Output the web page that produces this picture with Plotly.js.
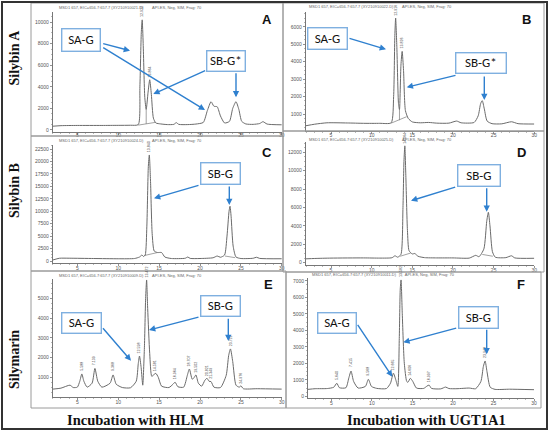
<!DOCTYPE html>
<html><head><meta charset="utf-8">
<script src="https://cdn.plot.ly/plotly-3.0.1.min.js"></script>
<style>html,body{margin:0;padding:0;background:#fff}#chart{width:550px;height:432px}</style>
</head><body><div id="chart"></div>
<script>
// ---------- DATA ----------
// Panel A: Silybin A, HLM
const tA = [2.0,3.0,5.0,8.0,10.0,11.5,12.45,12.65,12.82,12.93,13.05,13.25,13.42,13.65,13.85,14.05,14.3,14.6,15.2,16.0,16.8,17.1,17.4,18.5,19.5,20.4,20.9,21.35,21.7,22.1,22.5,23.0,23.6,24.0,24.4,24.75,25.1,25.6,26.5,27.3,27.7,28.2,30.0];
const yA = [350,400,420,420,430,440,500,4000,9000,10200,8000,3000,1900,3500,4650,3300,1100,650,560,500,520,680,520,500,550,700,1800,2620,2200,2150,1300,650,800,2000,2620,1900,800,560,520,600,770,550,480];
// Panel B: Silybin A, UGT1A1
const tB = [1.9,3.0,4.5,7.0,9.0,11.0,12.4,12.7,12.85,12.95,13.1,13.3,13.42,13.6,13.75,13.92,14.15,14.5,15.0,16.0,17.0,18.0,19.5,20.45,21.0,22.6,23.1,23.4,23.6,23.85,24.2,24.8,26.0,27.2,28.0,30.0];
const yB = [330,420,500,490,470,470,500,2000,5500,6500,4800,1600,1250,3800,4590,3500,1200,750,550,500,520,480,480,600,500,520,900,1600,1770,1300,600,450,440,560,450,430];
// Panel C: Silybin B, HLM
const tC = [2.0,2.8,4.0,7.0,10.0,12.0,12.6,12.9,13.1,13.3,13.5,13.68,13.8,13.95,14.15,14.4,14.8,15.3,15.7,16.5,18.2,18.5,18.8,20.0,21.6,22.1,22.5,23.0,23.3,23.55,23.67,23.8,24.05,24.4,25.0,26.5,26.9,27.3,30.0];
const yC = [200,550,560,500,450,500,800,1200,900,1200,7000,19000,21300,16000,5500,2000,1700,1700,800,500,550,800,520,500,650,1000,750,1200,5000,10000,11000,9000,3000,800,500,550,750,520,450];
// Panel D: Silybin B, UGT1A1
const tD = [1.9,3.0,5.0,9.0,11.0,12.5,12.87,13.2,13.6,13.85,13.97,14.08,14.2,14.4,14.6,15.0,15.3,15.7,16.5,18.0,20.0,22.0,22.8,23.2,23.8,24.15,24.35,24.55,24.85,25.2,26.5,27.2,27.6,30.0];
const yD = [420,460,500,520,500,540,750,600,900,6000,11000,12700,9500,3500,1300,950,1000,700,550,520,520,500,800,650,1500,4500,5480,4000,1200,600,550,750,520,480];
// Panel E: Silymarin, HLM
const tE = [2.0,3.0,4.1,4.5,5.0,5.3,5.55,5.8,6.2,6.8,7.15,7.5,8.0,9.0,9.37,9.75,10.5,11.5,12.2,12.45,12.6,12.8,13.0,13.2,13.35,13.47,13.6,13.85,14.1,14.4,14.6,14.9,15.3,16.2,16.7,16.95,17.3,18.0,18.45,18.7,19.05,19.3,19.5,19.8,20.2,20.6,20.85,21.1,21.35,21.7,22.5,23.2,23.5,23.72,24.0,24.4,24.8,25.0,25.3,27.0,30.0];
const yE = [400,450,600,480,500,800,1170,800,500,700,1450,800,500,700,1120,650,480,470,800,1700,2080,1500,600,2500,5000,5940,4500,2200,1050,1150,1200,1000,550,480,650,750,520,500,1100,1420,900,1000,1120,700,550,850,950,800,780,500,480,1100,2100,2440,1800,600,500,570,420,420,400];
// Panel F: Silymarin, UGT1A1
const tF = [2.12,3.0,4.5,5.3,5.67,6.0,6.8,7.15,7.43,7.75,8.3,9.2,9.57,9.95,10.6,11.8,12.3,12.65,12.95,13.2,13.38,13.5,13.6,13.75,14.0,14.3,14.45,14.75,15.05,15.5,16.4,16.8,17.06,17.35,18.5,19.1,19.5,20.5,22.0,22.8,23.45,23.75,23.97,24.2,24.6,25.2,27.0,30.0];
const yF = [420,460,470,550,790,520,520,1100,1530,900,500,600,1030,600,480,470,800,1400,1000,600,3500,6500,7050,5000,2000,900,850,1090,900,500,480,620,680,480,450,560,470,460,500,460,900,1800,2140,1500,550,420,430,400];

// integration baselines / drop lines
const baseA_t = [12.45,14.5], baseA_v = [450,700], dropA_t = [13.42,13.42], dropA_v = [1900,560];
const baseB_t = [12.4,14.3],  baseB_v = [480,850], dropB_t = [13.42,13.42], dropB_v = [1250,650];
const baseC_t = [13.2,14.8],  baseC_v = [1100,1700], baseC2_t = [23.05,24.3], baseC2_v = [1000,670];
const baseD_t = [13.5,14.8],  baseD_v = [700,1050],  baseD2_t = [23.6,24.9],  baseD2_v = [900,700];

// peak retention-time labels
const pkA_t = [12.93,13.85], pkA_v = [10200,4650], pkA_l = ["12.912","13.864"];
const pkB_t = [12.95,13.75], pkB_v = [6500,4590], pkB_l = ["12.916","13.826"];
const pkC_t = [13.8], pkC_v = [21300], pkC_l = ["13.840"];
const pkD_t = [14.08], pkD_v = [12700], pkD_l = ["14.064"];
const pkE_t = [5.55,7.15,9.37,12.6,13.47,14.6,16.95,18.7,19.5,20.85,21.35,23.72,25.0];
const pkE_v = [1170,1450,1120,2080,5940,1200,750,1420,1120,950,780,2440,570];
const pkE_l = ["5.588","7.139","9.368","12.598","13.472","14.581","16.964","18.707","19.502","20.821","21.349","23.715","24.976"];
const pkF_t = [5.67,7.43,9.57,12.65,13.6,14.75,17.06,23.97];
const pkF_v = [790,1530,1030,1400,7050,1090,680,2140];
const pkF_l = ["5.640","7.415","9.568","12.665","13.582","14.606","16.997","23.948"];

const rowLabels = ["Silybin A","Silybin B","Silymarin"];
const colLabels = ["Incubation with HLM","Incubation with UGT1A1"];
const panelLetters = ["A","B","C","D","E","F"];
const fileNames = ["XY210910021.D","XY210910022.D","XY210910024.D","XY210910025.D","XY210910009.D","XY210910011.D"];

// ---------- LAYOUT ----------
const W = 550, H = 432;
const fx = v => v / W, fy = v => 1 - v / H;

const panels = [
  {s:'',  box:[52.8,281.8,12,131.5],  xr:[2,30],    yr:[-140,10927], dt:2000, so:-4, t:tA, y:yA, pk:[pkA_t,pkA_v,pkA_l], extra:[[baseA_t,baseA_v],[dropA_t,dropA_v]]},
  {s:'2', box:[305.8,534.3,12,131],   xr:[1.9,30],  yr:[30,6847],    dt:1000, so:-3, t:tB, y:yB, pk:[pkB_t,pkB_v,pkB_l], extra:[[baseB_t,baseB_v],[dropB_t,dropB_v]]},
  {s:'3', box:[52.8,281.8,145,263],   xr:[2,30],    yr:[-402,23304], dt:2500, so:-2, t:tC, y:yC, pk:[pkC_t,pkC_v,pkC_l], extra:[[baseC_t,baseC_v],[baseC2_t,baseC2_v]]},
  {s:'4', box:[305.8,534.3,141.7,265],xr:[1.9,30],  yr:[-250,13150], dt:2000, so:-2, t:tD, y:yD, pk:[pkD_t,pkD_v,pkD_l], extra:[[baseD_t,baseD_v],[baseD2_t,baseD2_v]]},
  {s:'5', box:[52.8,281.8,279,396.8], xr:[2,30],    yr:[10,5990],    dt:1000, so:-2, t:tE, y:yE, pk:[pkE_t,pkE_v,pkE_l], extra:[]},
  {s:'6', box:[308,534,278.3,398],    xr:[2.12,30], yr:[-103,7150],  dt:1000, so:-2, t:tF, y:yF, pk:[pkF_t,pkF_v,pkF_l], extra:[]}
];
const headerPos = [[57,7],[307,6.5],[57,140.6],[307,139.8],[57,275],[310,274.5]];
const letterPos = [[267,19],[526.7,19],[267,152.7],[521.7,152.7],[268.3,284],[521,284.3]];
const frames = [[31,3,283,136],[283,3,544,131],[31,136,283,271],[283,131,544,272],[31,271,286,408],[286,272,541,408]];

const layout = {
  width: W, height: H, margin:{l:0,r:0,t:0,b:0},
  paper_bgcolor:'#ffffff', plot_bgcolor:'rgba(0,0,0,0)', showlegend:false,
  font:{family:'Liberation Sans, Arial, sans-serif', color:'#444'},
  shapes:[], annotations:[]
};
const traces = [];
const axisCommon = {
  showline:true, linecolor:'#777', linewidth:1, ticks:'outside', ticklen:2, tickwidth:0.8, tickcolor:'#777',
  tickfont:{size:5, color:'#555', family:'Liberation Sans, Arial, sans-serif'}, showgrid:false, zeroline:false, fixedrange:true
};

panels.forEach((p,i)=>{
  const [x0,x1,yt,yb] = p.box;
  layout['xaxis'+p.s] = Object.assign({}, axisCommon, {
    domain:[fx(x0), fx(x1)], range:p.xr, anchor:'y'+p.s, tickmode:'linear', tick0:0, dtick:5,
    ticklabelstandoff:p.so,
    minor:{dtick:1, ticklen:1.3, ticks:'outside', tickcolor:'#888', tickwidth:0.6}
  });
  layout['yaxis'+p.s] = Object.assign({}, axisCommon, {
    domain:[fy(yb), fy(yt)], range:p.yr, anchor:'x'+p.s, tickmode:'linear', tick0:0, dtick:p.dt,
    tickformat:'d',
    minor:{dtick:p.dt/4, ticklen:1.3, ticks:'outside', tickcolor:'#888', tickwidth:0.6}
  });
  traces.push({x:p.t, y:p.y, xaxis:'x'+p.s, yaxis:'y'+p.s, type:'scatter', mode:'lines',
    line:{color:'#6a6a6a', width:1, shape:'spline', smoothing:0.6}, hoverinfo:'skip'});
  p.extra.forEach(e=>{
    traces.push({x:e[0], y:e[1], xaxis:'x'+p.s, yaxis:'y'+p.s, type:'scatter', mode:'lines',
      line:{color:'#7a7a7a', width:0.7}, hoverinfo:'skip'});
  });
  const [pt,pv,pl] = p.pk;
  pt.forEach((t,k)=>{
    layout.annotations.push({xref:'x'+p.s, yref:'y'+p.s, x:t, y:pv[k], text:pl[k], textangle:-90,
      xanchor:'center', yanchor:'middle', showarrow:false, yshift:8, font:{size:3.6, color:'#444'}});
  });
  // header text
  layout.annotations.push({xref:'paper', yref:'paper', x:fx(headerPos[i][0]), y:fy(headerPos[i][1]),
    xanchor:'left', yanchor:'middle', showarrow:false,
    text:'MSD1 657, EIC=656.7:657.7 ('+fileNames[i]+')        API-ES, Neg, SIM, Frag: 70',
    font:{size:4, color:'#666'}});
  // panel letter
  layout.annotations.push({xref:'paper', yref:'paper', x:fx(letterPos[i][0]), y:fy(letterPos[i][1]),
    xanchor:'center', yanchor:'middle', showarrow:false, text:'<b>'+panelLetters[i]+'</b>',
    font:{size:13, color:'#111', family:'Liberation Sans, Arial, sans-serif'}});
  const f = frames[i];
  layout.shapes.push({type:'rect', xref:'paper', yref:'paper', x0:fx(f[0]), x1:fx(f[2]), y0:fy(f[3]), y1:fy(f[1]),
    line:{color:'#9a9a9a', width:1}, fillcolor:'rgba(0,0,0,0)'});
});
// outer border
layout.shapes.push({type:'rect', xref:'paper', yref:'paper', x0:fx(2), x1:fx(547), y0:fy(429), y1:fy(2),
  line:{color:'#333', width:2}, fillcolor:'rgba(0,0,0,0)'});

// row / column labels
const rowPos = [[14,57.5],[14,191],[14,360]];
rowLabels.forEach((r,i)=>{
  layout.annotations.push({xref:'paper', yref:'paper', x:fx(rowPos[i][0]), y:fy(rowPos[i][1]), textangle:-90,
    xanchor:'center', yanchor:'middle',
    showarrow:false, text:'<b>'+r+'</b>', font:{size:14, color:'#111', family:'Liberation Serif, Times New Roman, serif'}});
});
const colPos = [[135.5,420],[426,419.5]];
colLabels.forEach((c,i)=>{
  layout.annotations.push({xref:'paper', yref:'paper', x:fx(colPos[i][0]), y:fy(colPos[i][1]),
    xanchor:'center', yanchor:'middle',
    showarrow:false, text:'<b>'+c+'</b>', font:{size:14.5, color:'#111', family:'Liberation Serif, Times New Roman, serif'}});
});

// label boxes [text, cx, cy, w, h]
const boxes = [
  ['SA-G',81,40,40,24],['SB-G*',225.5,61,40,22],
  ['SA-G',327.2,38.3,41,23],['SB-G*',480.8,62.8,52,22],
  ['SB-G',220,173.7,41,23],['SB-G',478.8,175,44,23],
  ['SA-G',81.3,322.5,41,22],['SB-G',220.3,306.2,41,22],
  ['SA-G',336.7,322.5,40,22],['SB-G',478.3,317,41,23]
];
// arrows [tailx, taily, headx, heady] in pixels
const arrows = [
  [101.7,43.3,130,50.7],[101.7,46.7,205,110],[206.7,70,153.3,94],[236,71.7,236,97.3],
  [348,38,386,49.3],[457,75,406.7,87.3],[484.3,75,484.3,100],
  [200,185,154,198.3],[229.3,185,229.3,205],
  [456.7,186.7,411,200.7],[486.7,186.7,486.7,211.7],
  [101.7,326.7,131,360.7],[200,316.7,149,330],[228.3,317.3,228.3,341],
  [356.7,323.3,392.3,376.7],[457.7,327.7,403.3,342.3],[486.7,328.3,486.7,354.3]
];
arrows.forEach(a=>{
  layout.annotations.push({xref:'paper', yref:'paper', x:fx(a[2]), y:fy(a[3]), ax:a[0]-a[2], ay:a[1]-a[3],
    axref:'pixel', ayref:'pixel', text:'', showarrow:true, arrowhead:2, arrowsize:0.9, arrowwidth:1.4,
    arrowcolor:'#2f80cf', standoff:0, startstandoff:0});
});
boxes.forEach(b=>{
  layout.annotations.push({xref:'paper', yref:'paper', x:fx(b[1]), y:fy(b[2]), xanchor:'center', yanchor:'middle',
    showarrow:false, text:b[0], width:b[3]-3, height:b[4]-3, borderpad:0, bordercolor:'#7fb0e0', borderwidth:1.4,
    bgcolor:'#ffffff', font:{size:13, color:'#111', family:'Carlito, Calibri, Open Sans, sans-serif'}});
});

Plotly.newPlot('chart', traces, layout, {staticPlot:true, displayModeBar:false});
</script></body></html>
